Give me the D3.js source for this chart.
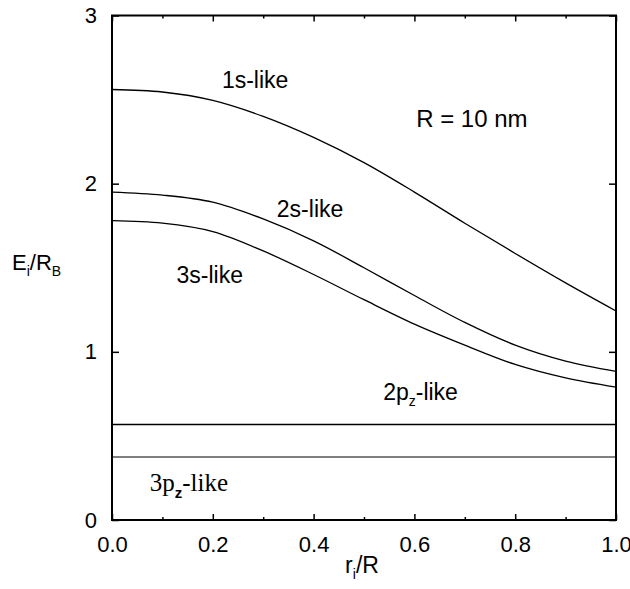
<!DOCTYPE html>
<html>
<head>
<meta charset="utf-8">
<script src="https://cdn.jsdelivr.net/npm/d3@7"></script>
<style>
  body { margin: 0; background: #fff; }
  text { font-family: "Liberation Sans", Arial, sans-serif; fill: #000; }
</style>
</head>
<body>
<svg id="chart" width="630" height="589"></svg>
<script>
// values
var rValues = [0.0, 0.1, 0.2, 0.3, 0.4, 0.5, 0.6, 0.7, 0.8, 0.9, 1.0];
var e1s = [2.56, 2.545, 2.495, 2.40, 2.275, 2.125, 1.95, 1.765, 1.585, 1.41, 1.243];
var e2s = [1.95, 1.932, 1.89, 1.79, 1.66, 1.50, 1.335, 1.175, 1.04, 0.945, 0.884];
var e3s = [1.78, 1.765, 1.715, 1.60, 1.46, 1.31, 1.165, 1.04, 0.925, 0.845, 0.79];
var e2pz = 0.568;
var e3pz = 0.375;

var xMajor = [0.0, 0.2, 0.4, 0.6, 0.8, 1.0];
var xMinor = [0.1, 0.3, 0.5, 0.7, 0.9];
var yMajor = [0, 1, 2, 3];

var svg = d3.select("#chart");
var plotLeft = 112, plotRight = 616, plotTop = 15.5, plotBottom = 520;

var x = d3.scaleLinear().domain([0, 1]).range([plotLeft, plotRight]);
var y = d3.scaleLinear().domain([0, 3]).range([plotBottom, plotTop]);

// curves
var line = d3.line()
    .x(function(d) { return x(d[0]); })
    .y(function(d) { return y(d[1]); })
    .curve(d3.curveCatmullRom.alpha(0.5));

[e1s, e2s, e3s].forEach(function(series) {
    svg.append("path")
        .datum(rValues.map(function(r, i) { return [r, series[i]]; }))
        .attr("d", line)
        .attr("fill", "none")
        .attr("stroke", "#000")
        .attr("stroke-width", 1.3);
});

// flat p-like levels
[[e2pz, 1.6], [e3pz, 1.1]].forEach(function(p) {
    svg.append("line")
        .attr("x1", x(0)).attr("x2", x(1))
        .attr("y1", y(p[0])).attr("y2", y(p[0]))
        .attr("stroke", "#000")
        .attr("stroke-width", p[1]);
});

// axes, ticks point inward
function styleAxis(g) {
    g.select(".domain").remove();
    g.selectAll(".tick line").attr("stroke", "#000").attr("stroke-width", 1.5);
    g.selectAll("text").style("font-size", "22px").attr("fill", "#000");
}

svg.append("g")
    .attr("transform", "translate(0," + plotBottom + ")")
    .call(d3.axisBottom(x).tickValues(xMajor).tickSize(-6).tickPadding(16)
        .tickFormat(d3.format(".1f")))
    .call(styleAxis);
svg.append("g")
    .attr("transform", "translate(0," + plotBottom + ")")
    .call(d3.axisBottom(x).tickValues(xMinor).tickSize(-3).tickFormat(""))
    .call(styleAxis);
svg.append("g")
    .attr("transform", "translate(0," + plotTop + ")")
    .call(d3.axisTop(x).tickValues(xMajor).tickSize(-6).tickFormat(""))
    .call(styleAxis);
svg.append("g")
    .attr("transform", "translate(0," + plotTop + ")")
    .call(d3.axisTop(x).tickValues(xMinor).tickSize(-3).tickFormat(""))
    .call(styleAxis);

svg.append("g")
    .attr("transform", "translate(" + plotLeft + ",0)")
    .call(d3.axisLeft(y).tickValues(yMajor).tickSize(-7).tickPadding(15)
        .tickFormat(d3.format("d")))
    .call(styleAxis);
svg.append("g")
    .attr("transform", "translate(" + plotRight + ",0)")
    .call(d3.axisRight(y).tickValues(yMajor).tickSize(-7).tickFormat(""))
    .call(styleAxis);

// frame
svg.append("rect")
    .attr("x", plotLeft).attr("y", plotTop)
    .attr("width", plotRight - plotLeft).attr("height", plotBottom - plotTop)
    .attr("fill", "none")
    .attr("stroke", "#000")
    .attr("stroke-width", 2);

// axis titles
var xt = svg.append("text")
    .attr("x", 362).attr("y", 573)
    .attr("text-anchor", "middle")
    .style("font-size", "23px");
xt.append("tspan").text("r");
xt.append("tspan").attr("dy", 6).style("font-size", "14px").text("i");
xt.append("tspan").attr("dy", -6).text("/R");

var yt = svg.append("text")
    .attr("x", 12).attr("y", 270)
    .style("font-size", "22px");
yt.append("tspan").text("E");
yt.append("tspan").attr("dy", 6).style("font-size", "14px").text("i");
yt.append("tspan").attr("dy", -6).text("/R");
yt.append("tspan").attr("dy", 6).style("font-size", "14px").text("B");

// curve labels
function label(r, e, anchor, size) {
    return svg.append("text")
        .attr("x", x(r)).attr("y", y(e))
        .attr("text-anchor", anchor)
        .style("font-size", size);
}
label(0.284, 2.568, "middle", "23px").text("1s-like");
label(0.714, 2.336, "middle", "24px").text("R = 10 nm");
label(0.393, 1.80, "middle", "23px").text("2s-like");
label(0.194, 1.409, "middle", "23px").text("3s-like");

var l2p = label(0.538, 0.713, "start", "23px");
l2p.append("tspan").text("2p");
l2p.append("tspan").attr("dy", 6).style("font-size", "14px").text("z");
l2p.append("tspan").attr("dy", -6).text("-like");

var l3p = label(0.075, 0.172, "start", "25px")
    .style("font-family", "'Liberation Serif', 'Times New Roman', serif");
l3p.append("tspan").text("3p");
l3p.append("tspan").attr("dy", 7).style("font-size", "15px")
    .style("font-family", "'Liberation Sans', Arial, sans-serif")
    .style("font-weight", "bold").text("z");
l3p.append("tspan").attr("dy", -7).text("-like");
</script>
</body>
</html>
